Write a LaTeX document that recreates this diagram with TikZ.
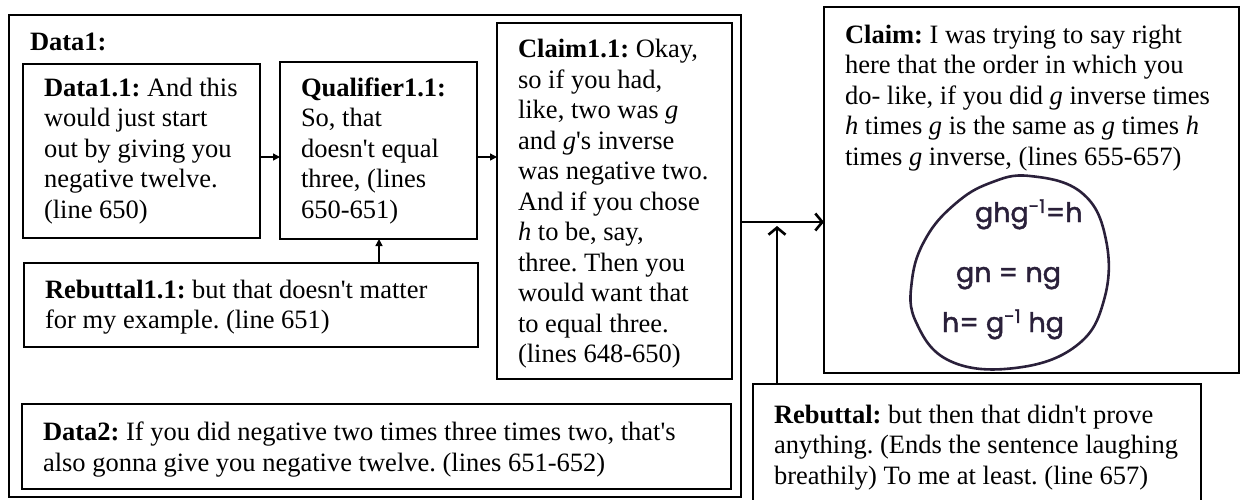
\documentclass[tikz,border=0pt]{standalone}
\usepackage{fontspec}
\setmainfont{Liberation Serif}
\newfontface\handfont{Poppins}[FakeBold=1.6]
\usetikzlibrary{arrows.meta}

\definecolor{handink}{RGB}{42,32,58}
\newcommand{\apos}{\textquotesingle}

\begin{document}
\frenchspacing
\begin{tikzpicture}[x=1pt,y=-1pt,
  every node/.style={inner sep=0pt, outer sep=0pt},
  frame/.style={draw, line width=1.4pt, rectangle, anchor=north west},
  body/.style={align=left, font=\fontsize{26.5}{30.5}\selectfont},
  hand/.style={text=handink, font=\handfont\fontsize{27}{30}\selectfont, anchor=base west},
  thin arrow/.style={line width=1.4pt, -{Triangle[length=7pt,width=7pt]}},
  bold arrow/.style={line width=2.6pt, -{Straight Barb[length=7pt,width=17pt,line width=2.6pt]}},
]
\useasboundingbox (0,0) rectangle (1241,499);
\clip (0,0) rectangle (1241,499);

% frames
\node[frame, minimum width=732pt, minimum height=482pt] (data1) at (9,15) {};
\node[frame, minimum width=237pt, minimum height=174pt] (d11) at (23,64) {};
\node[frame, minimum width=197pt, minimum height=177pt] (q11) at (280,62) {};
\node[frame, minimum width=235pt, minimum height=356pt] (c11) at (497,23) {};
\node[frame, minimum width=454pt, minimum height=84pt] (r11) at (24,263) {};
\node[frame, minimum width=709pt, minimum height=85pt] (d2) at (22,404) {};
\node[frame, minimum width=415pt, minimum height=366pt] (claim) at (824,7) {};
\node[frame, minimum width=448pt, minimum height=140pt] (reb) at (753,384) {};

% texts
\node[body, anchor=base west] (t-data1) at (30,50) {\textbf{Data1:}};
\node[body, anchor=west] (t-d11) at ([xshift=21pt]d11.west)
  {\textbf{Data1.1:} And this\\would just start\\out by giving you\\negative twelve.\\(line 650)};
\node[body, anchor=west] (t-q11) at ([xshift=21pt]q11.west)
  {\textbf{Qualifier1.1:}\\So, that\\doesn\apos t equal\\three, (lines\\650-651)};
\node[body, anchor=west] (t-c11) at ([shift={(21,3)}]c11.west)
  {\textbf{Claim1.1:} Okay,\\so if you had,\\like, two was \textit{g}\\and \textit{g}\apos s inverse\\was negative two.\\And if you chose\\\textit{h} to be, say,\\three. Then you\\would want that\\to equal three.\\(lines 648-650)};
\node[body, anchor=west] (t-r11) at ([shift={(21,2)}]r11.west)
  {\textbf{Rebuttal1.1:} but that doesn\apos t matter\\for my example. (line 651)};
\node[body, anchor=west] (t-d2) at ([shift={(21,3)}]d2.west)
  {\textbf{Data2:} If you did negative two times three times two, that\apos s\\also gonna give you negative twelve. (lines 651-652)};
\node[body, anchor=north west] (t-claim) at ([shift={(21,18)}]claim.north west)
  {\textbf{Claim:} I was trying to say right\\here that the order in which you\\do- like, if you did \textit{g} inverse times\\\textit{h} times \textit{g} is the same as \textit{g} times \textit{h}\\times \textit{g} inverse, (lines 655-657)};
\node[body, anchor=north west] (t-reb) at ([shift={(21,21)}]reb.north west)
  {\textbf{Rebuttal:} but then that didn\apos t prove\\anything. (Ends the sentence laughing\\breathily) To me at least. (line 657)};

% connectors
\coordinate (rowA) at (0,157);
\coordinate (colA) at (379,0);
\draw[thin arrow] (d11.east |- rowA) -- (q11.west |- rowA);
\draw[thin arrow] (q11.east |- rowA) -- (c11.west |- rowA);
\draw[thin arrow] (r11.north -| colA) -- (q11.south -| colA);

\coordinate (rowB) at (0,222);
\coordinate (colB) at (777,226);
\draw[bold arrow] (data1.east |- rowB) -- (claim.west |- rowB);
\draw[bold arrow] (reb.north -| colB) -- (colB);

% hand-drawn sketch inside the claim
\draw[handink, line width=2.6pt, line cap=round]
  plot[smooth cycle, tension=0.7] coordinates {
    (1030,176) (1082,193) (1106,240) (1104,300) (1076,346)
    (1015,368) (950,361) (916,322) (912,280) (926,238) (955,204) (990,183)};
\node[hand] (h1) at (975,222) {ghg\textsuperscript{-1}=h};
\node[hand] (h2) at (956,282) {gn = ng};
\node[hand] (h3) at (942,332) {h= g\textsuperscript{-1} hg};
\end{tikzpicture}
\end{document}
